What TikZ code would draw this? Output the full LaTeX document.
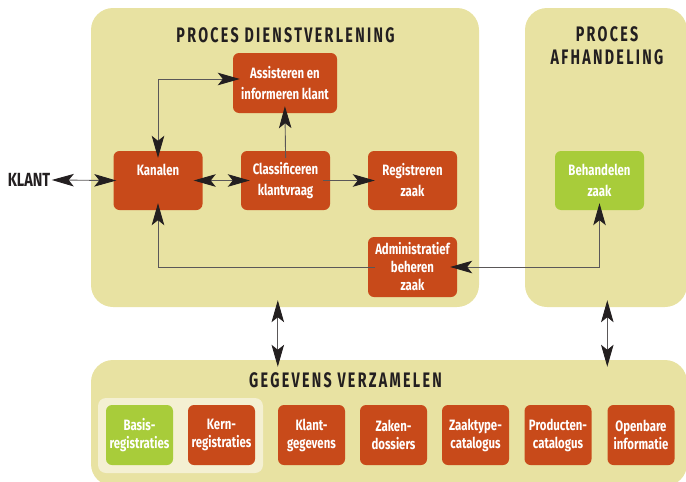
\documentclass[tikz,border=0pt]{standalone}
\usepackage{fontspec}
\usetikzlibrary{arrows.meta}
\newfontfamily\boxfont[FakeStretch=0.76]{Fira Sans}
\newfontfamily\headfont[FakeStretch=0.68,LetterSpace=11]{Fira Sans}
\definecolor{panelbg}{HTML}{E8E2A2}
\definecolor{palebg}{HTML}{F4F0D2}
\definecolor{rust}{HTML}{C84A1A}
\definecolor{lime}{HTML}{A8CC3A}
\definecolor{ink}{HTML}{231F20}
\tikzset{dart/.tip={Stealth[length=22pt,width=12.5pt,inset=5pt,color=ink]}}
\begin{document}
\begin{tikzpicture}[x=1pt,y=-1pt,
  panel/.style={fill=panelbg,rounded corners=22pt,inner sep=0pt},
  task/.style={fill=rust,text=white,rounded corners=6pt,align=center,inner sep=2pt,
    minimum width=89pt,minimum height=59pt,font=\boxfont\bfseries\fontsize{15}{21}\selectfont},
  ext/.style={task,fill=lime},
  store/.style={task,minimum width=67pt,minimum height=60pt,font=\boxfont\bfseries\fontsize{15}{18}\selectfont},
  head/.style={text=ink,align=center,font=\headfont\bfseries\fontsize{21}{23}\selectfont},
  link/.style={draw=ink!75,line width=0.9pt,shorten >=-7pt,shorten <=-7pt}]
  \useasboundingbox (0,0) rectangle (686,482);
  % panels
  \node (dienst) [panel,minimum width=388pt,minimum height=299pt] at (285,157.5) {};
  \node (afhandel) [panel,minimum width=162pt,minimum height=299pt] at (606,157.5) {};
  \node (gegevens) [panel,minimum width=596pt,minimum height=126pt] at (389,423) {};
  \node (basisveld) [fill=palebg,rounded corners=8pt,minimum width=165pt,minimum height=75pt] at (180.5,435.5) {};
  \node (t1) [head] at (285.5,35) {PROCES DIENSTVERLENING};
  \node (t2) [head] at (607,46) {PROCES\\AFHANDELING};
  \node (t3) [head] at (345.5,380) {GEGEVENS VERZAMELEN};
  % proces dienstverlening
  \node (klant) [text=ink,font=\boxfont\bfseries\fontsize{19}{20}\selectfont] at (29,180) {KLANT};
  \node (kanalen) [task] at (158,180.5) {Kanalen\\\mbox{}};
  \node (assist) [task,minimum width=104pt,minimum height=60pt] at (285,83) {Assisteren en\\informeren klant};
  \node (classif) [task] at (285.5,180.5) {Classificeren\\klantvraag};
  \node (registr) [task] at (412.5,180.5) {Registreren\\zaak};
  \node (admin) [task,font=\boxfont\bfseries\fontsize{15}{18}\selectfont,minimum height=60pt] at (412.5,267) {Administratief\\beheren\\zaak};
  \node (behandel) [ext] at (599.5,180.5) {Behandelen\\zaak};
  % gegevens verzamelen
  \node (basis) [store,fill=lime] at (139.5,435) {Basis-\\registraties};
  \node (kern) [store] at (221.5,435) {Kern-\\registraties};
  \node (klantgeg) [store] at (311.5,435) {Klant-\\gegevens};
  \node (zaken) [store] at (393.5,435) {Zaken-\\dossiers};
  \node (zaaktype) [store] at (475.5,435) {Zaaktype-\\catalogus};
  \node (product) [store] at (558,435) {Producten-\\catalogus};
  \node (openbaar) [store] at (641,435) {Openbare\\informatie};
  % verbindingen
  \draw [link,dart-dart,shorten <=-2pt,shorten >=-3pt] (klant.east) -- (kanalen.west);
  \draw [link,dart-dart,shorten >=-9pt,shorten <=-9pt] (kanalen.east) -- (classif.west);
  \draw [link,-dart] (classif.east) -- (registr.west);
  \draw [link,-dart] (classif.north) -- (assist.south);
  \draw [link,dart-dart] (kanalen.north) |- ([yshift=4pt]assist.west);
  \draw [link,-dart] (admin.west) -| (kanalen.south);
  \draw [link,dart-dart] (behandel.south) |- (admin.east);
  \draw [link,dart-dart] (dienst.south -| klantgeg.west) -- (gegevens.north -| klantgeg.west);
  \draw [link,dart-dart] (afhandel.south -| openbaar.west) -- (gegevens.north -| openbaar.west);
\end{tikzpicture}
\end{document}
